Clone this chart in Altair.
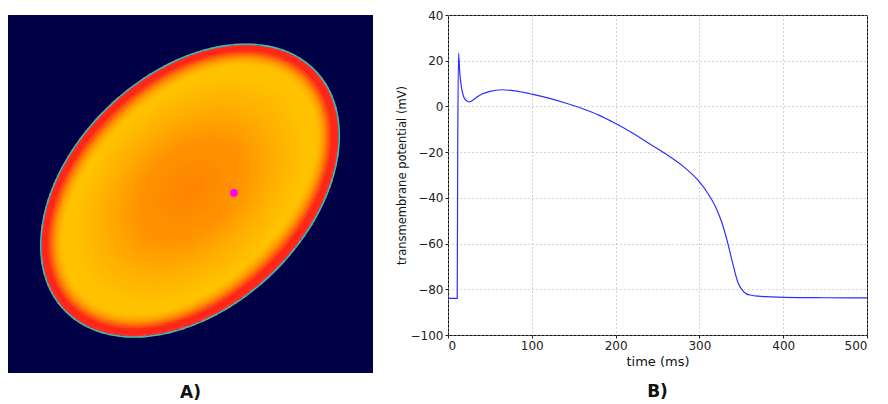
import numpy as np
import pandas as pd
import altair as alt

# ---------------- Panel B: action potential trace ----------------
time_ms = [0, 11, 11.6, 12.6, 14, 16, 18, 20, 23, 25.5, 30, 35, 40, 50, 64.8, 80,
           100, 120, 140, 160, 180, 200, 220, 240, 260, 280, 290, 300, 310, 320, 327,
           334, 340, 346, 351.5, 356, 362, 370, 385, 400, 450, 500]
voltage_mv = [-84, -84, -20, 23.3, 15, 8.5, 5, 3.3, 2.3, 2.0, 2.8, 4.2, 5.3, 6.6, 7.3, 6.8,
              5.4, 3.6, 1.5, -0.9, -3.8, -7.5, -11.6, -16.2, -20.8, -26.0, -29.2, -33.0,
              -38.0, -44.5, -51, -60, -69, -77, -80.5, -82, -82.6, -83, -83.3, -83.5,
              -83.7, -83.8]
x_ticks = [0, 100, 200, 300, 400, 500]
y_ticks = [-100, -80, -60, -40, -20, 0, 20, 40]

# ---------------- Panel A: activation map (ellipse) ----------------
img_px = 365.0                      # reference image size in pixels
ellipse_center = [182.0, 179.0]     # px, y downward
ellipse_axes = [175.0, 118.0]       # semi-major, semi-minor (px)
ellipse_angle_deg = 45.0            # major axis tilt (up-right)
probe_point = [0.619, 0.497]        # magenta marker (normalised)
cell_px = 2.0

level_stops = [0.0, 1.4, 7.0, 11.0, 16.0, 22.0, 25.0, 50.0, 80.0, 124.0]
level_colors = ["#ff4a28", "#ff2a1e", "#ff2418", "#ff5a10",
                "#ff9800", "#ffbc00", "#ffc200", "#ffb000", "#ff9400", "#ff8400"]

n = int(round(img_px / cell_px))
centers = (np.arange(n) + 0.5) * cell_px
PX, PY = np.meshgrid(centers, centers)
dx = PX - ellipse_center[0]
dy = PY - ellipse_center[1]
th = np.deg2rad(ellipse_angle_deg)
p = dx * np.cos(th) - dy * np.sin(th)
q = dx * np.sin(th) + dy * np.cos(th)
r = np.sqrt((p / ellipse_axes[0]) ** 2 + (q / ellipse_axes[1]) ** 2)
rho = np.sqrt(dx ** 2 + dy ** 2)
with np.errstate(divide="ignore", invalid="ignore"):
    d = np.where(r > 1e-9, rho * (1.0 / np.maximum(r, 1e-9) - 1.0), 1e6)
level = np.minimum(d, 25.0) + 100.0 * np.clip(0.78 - r, 0, None) / 0.78
mask = d >= 0.8
half = cell_px / img_px / 2.0
over = 0.6 / img_px
u = PX[mask] / img_px
v = PY[mask] / img_px
grid = pd.DataFrame({
    "x0": np.round(u - half - over, 5),
    "x1": np.round(u + half + over, 5),
    "y0": np.round(v - half - over, 5),
    "y1": np.round(v + half + over, 5),
    "level": np.round(level[mask], 2),
})

# wavefront outline (the ellipse boundary)
tt = np.deg2rad(np.arange(0, 361, 2))
ex = ellipse_center[0] + ellipse_axes[0] * np.cos(tt) * np.cos(th) + ellipse_axes[1] * np.sin(tt) * np.sin(th)
ey = ellipse_center[1] - ellipse_axes[0] * np.cos(tt) * np.sin(th) + ellipse_axes[1] * np.sin(tt) * np.cos(th)
edge = pd.DataFrame({"x": ex / img_px, "y": ey / img_px, "k": np.arange(len(tt))})

xs = alt.Scale(domain=[0, 1], nice=False, zero=False)
ys = alt.Scale(domain=[0, 1], nice=False, zero=False, reverse=True)

heat = alt.Chart(grid).mark_rect(strokeWidth=0).encode(
    x=alt.X("x0:Q", scale=xs, axis=None),
    x2="x1:Q",
    y=alt.Y("y0:Q", scale=ys, axis=None),
    y2="y1:Q",
    color=alt.Color("level:Q", scale=alt.Scale(domain=level_stops, range=level_colors,
                                               interpolate="rgb", clamp=True), legend=None),
)
outline = alt.Chart(edge).mark_line(color="#3cbcb4", strokeWidth=1.6).encode(
    x=alt.X("x:Q", scale=xs, axis=None),
    y=alt.Y("y:Q", scale=ys, axis=None),
    order="k:Q",
)
probe = alt.Chart(pd.DataFrame({"x": [probe_point[0]], "y": [probe_point[1]]})).mark_point(
    filled=True, shape="circle", size=60, color="#ff00ff", opacity=1
).encode(
    x=alt.X("x:Q", scale=xs, axis=None),
    y=alt.Y("y:Q", scale=ys, axis=None),
)
panel_a = alt.layer(heat, outline, probe).properties(
    width=365, height=358,
    view=alt.ViewBackground(fill="#000046", stroke=None),
    title=alt.TitleParams("A)", orient="bottom", fontSize=17, fontWeight="bold",
                          font="DejaVu Sans", color="#111111", offset=12),
)

# ---------------- Panel B chart ----------------
ap = pd.DataFrame({"t": time_ms, "v": voltage_mv})
axis_common = dict(
    grid=True, gridColor="#a8a8a8", gridDash=[1, 3], gridWidth=1,
    labelFont="DejaVu Sans", labelFontSize=12, labelColor="#222222",
    titleFont="DejaVu Sans", titleColor="#111111", titleFontWeight="normal",
    tickColor="#222222", tickSize=3, labelPadding=2, domain=False,
)
panel_b = alt.Chart(ap).mark_line(color="#2e2eff", strokeWidth=1.2, interpolate="monotone").encode(
    x=alt.X("t:Q", scale=alt.Scale(domain=[0, 500], nice=False),
            axis=alt.Axis(values=x_ticks, title="time (ms)", titleFontSize=13,
                          titlePadding=4, **axis_common)),
    y=alt.Y("v:Q", scale=alt.Scale(domain=[-100, 40], nice=False, zero=False),
            axis=alt.Axis(values=y_ticks, title="transmembrane potential (mV)",
                          titleFontSize=11.5, titlePadding=3, **axis_common)),
).properties(
    width=419, height=320,
    view=alt.ViewBackground(fill="white", stroke="#111111", strokeWidth=1),
    title=alt.TitleParams("B)", orient="bottom", fontSize=17, fontWeight="bold",
                          font="DejaVu Sans", color="#111111", offset=16),
)

chart = alt.hconcat(panel_a, panel_b, spacing=22).properties(
    padding={"left": 0, "top": 0, "right": 0, "bottom": 0}
).configure(font="DejaVu Sans")

chart.save("out.html", embed_options={"renderer": "svg", "actions": False})
